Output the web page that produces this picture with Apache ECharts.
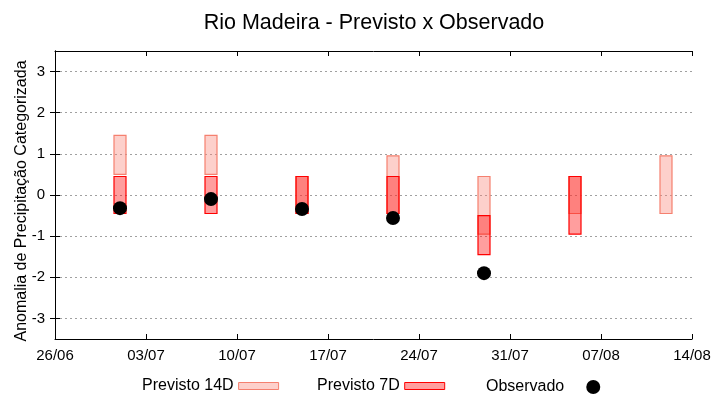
<!DOCTYPE html>
<html>
<head>
<meta charset="utf-8">
<script src="https://cdn.jsdelivr.net/npm/echarts@6/dist/echarts.min.js"></script>
<style>html,body{margin:0;padding:0;background:#fff}#c{width:720px;height:400px}</style>
</head>
<body>
<div id="c"></div>
<script>
const startDate = '2024-06-26';
const xTickLabels = ['26/06','03/07','10/07','17/07','24/07','31/07','07/08','14/08'];
const yTicks = [-3,-2,-1,0,1,2,3];
const dates = ['2024-07-01','2024-07-08','2024-07-15','2024-07-22','2024-07-29','2024-08-05','2024-08-12'];
const p14Low  = [0.5, 0.5, -0.45, -0.45, -0.95, -0.45, -0.45];
const p14High = [1.45, 1.45, 0.45, 0.95, 0.45, 0.45, 0.95];
const p7Low   = [-0.45, -0.45, -0.45, -0.45, -1.45, -0.95, null];
const p7High  = [0.45, 0.45, 0.45, 0.45, -0.5, 0.45, null];
const observed = [-0.32, -0.1, -0.34, -0.56, -1.9, null, null];

const FONT = "'Liberation Sans', Arial, sans-serif";
const dayOf = d => Math.round((Date.parse(d) - Date.parse(startDate)) / 86400000);
const xs = dates.map(dayOf);

function rangeData(lo, hi) {
  const out = [];
  xs.forEach((x, i) => { if (lo[i] != null && hi[i] != null) out.push([x, lo[i], hi[i]]); });
  return out;
}
function makeRender(fill, stroke) {
  return function (params, api) {
    const x = api.value(0), lo = api.value(1), hi = api.value(2);
    const a = api.coord([x, hi]), b = api.coord([x, lo]);
    return {
      type: 'rect',
      shape: { x: Math.round(a[0]) - 6, y: a[1], width: 12, height: b[1] - a[1] },
      style: { fill: fill, stroke: stroke, lineWidth: 1.2 }
    };
  };
}
const pinkFill = 'rgba(250,128,114,0.37)', pinkStroke = '#f5806f';
const redFill = 'rgba(255,0,0,0.38)', redStroke = '#ff0000';

const chart = echarts.init(document.getElementById('c'));
const yCommon = {
  type: 'value', min: -3.5, max: 3.5,
  axisLine: { show: true, lineStyle: { color: '#000', width: 1 } },
  axisTick: { show: true, inside: true, length: 5, customValues: yTicks, lineStyle: { color: '#000' } },
  splitLine: { show: false }
};
chart.setOption({
  animation: false,
  textStyle: { fontFamily: FONT },
  title: {
    text: 'Rio Madeira - Previsto x Observado',
    left: 369, top: 7, textAlign: 'center',
    textStyle: { fontFamily: FONT, fontSize: 21.5, fontWeight: 'normal', color: '#000' }
  },
  grid: { left: 55, right: 28, top: 51, bottom: 61, containLabel: false, outerBoundsMode: 'none' },
  legend: [
    { left: 142, top: 378, padding: 0, align: 'right', itemWidth: 40, itemHeight: 7,
      textStyle: { fontFamily: FONT, fontSize: 16, color: '#000' },
      data: [{ name: 'Previsto 14D', icon: 'rect', itemStyle: { color: pinkFill, borderColor: pinkStroke, borderWidth: 1 } }] },
    { left: 317, top: 378, padding: 0, align: 'right', itemWidth: 40, itemHeight: 7,
      textStyle: { fontFamily: FONT, fontSize: 16, color: '#000' },
      data: [{ name: 'Previsto 7D', icon: 'rect', itemStyle: { color: redFill, borderColor: redStroke, borderWidth: 1 } }] },
    { left: 486, top: 379, padding: 0, align: 'right', itemWidth: 48, itemHeight: 14,
      textStyle: { fontFamily: FONT, fontSize: 16, color: '#000' },
      data: [{ name: 'Observado', icon: 'circle', itemStyle: { color: '#000', opacity: 1 } }] }
  ],
  xAxis: [
    { type: 'value', min: 0, max: 49, interval: 7, position: 'bottom',
      axisLine: { show: true, onZero: false, lineStyle: { color: '#000' } },
      axisTick: { show: true, inside: true, length: 5, lineStyle: { color: '#000' } },
      axisLabel: { fontFamily: FONT, fontSize: 15, color: '#000', margin: 9,
        formatter: v => xTickLabels[Math.round(v / 7)] },
      splitLine: { show: false } },
    { type: 'value', min: 0, max: 49, interval: 7, position: 'top',
      axisLine: { show: true, onZero: false, lineStyle: { color: '#000' } },
      axisTick: { show: true, inside: true, length: 5, lineStyle: { color: '#000' } },
      axisLabel: { show: false }, splitLine: { show: false } }
  ],
  yAxis: [
    Object.assign({}, yCommon, {
      position: 'left',
      name: 'Anomalia de Precipitação Categorizada', nameLocation: 'middle', nameGap: 25,
      nameMoveOverlap: false,
      nameTextStyle: { fontFamily: FONT, fontSize: 16, color: '#000', padding: [0, 12, 0, 0] },
      axisLabel: { customValues: yTicks, fontFamily: FONT, fontSize: 15, color: '#000', margin: 10 },
      splitLine: { show: true, lineStyle: { color: '#a0a0a0', type: [2, 3], width: 1 } }
    }),
    Object.assign({}, yCommon, { position: 'right', axisLabel: { show: false } })
  ],
  series: [
    { name: 'Previsto 14D', type: 'custom', xAxisIndex: 0, yAxisIndex: 0,
      renderItem: makeRender(pinkFill, pinkStroke), data: rangeData(p14Low, p14High),
      encode: { x: 0, y: [1, 2] }, z: 2 },
    { name: 'Previsto 7D', type: 'custom', xAxisIndex: 0, yAxisIndex: 0,
      renderItem: makeRender(redFill, redStroke), data: rangeData(p7Low, p7High),
      encode: { x: 0, y: [1, 2] }, z: 3 },
    { name: 'Observado', type: 'scatter', xAxisIndex: 0, yAxisIndex: 0,
      symbol: 'circle', symbolSize: 14, itemStyle: { color: '#000', opacity: 1 },
      data: xs.map((x, i) => observed[i] == null ? null : [x, observed[i]]).filter(d => d), z: 4 }
  ]
});
</script>
</body>
</html>
